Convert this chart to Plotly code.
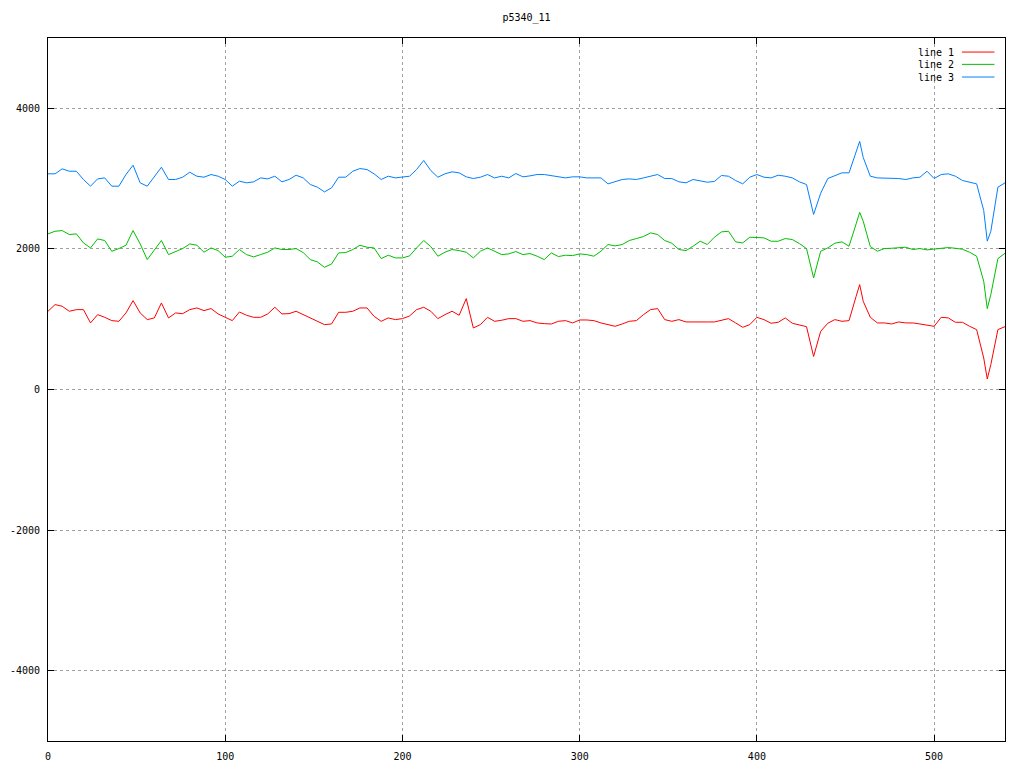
import plotly.graph_objects as go

# x positions (sample index)
X = list(range(0, 457, 4)) + [458] + list(range(460, 529, 4)) + [530] + list(range(532, 541, 4))

line1 = [  # red
    1113, 1208, 1184, 1113, 1136, 1136, 947, 1065, 1027, 980, 970, 1089, 1264, 1089, 994, 1018, 1231, 1018, 1089, 1079, 1136, 1160, 1122,
    1151, 1075, 1027, 980, 1103, 1056, 1027, 1027, 1075, 1170, 1075, 1079, 1113, 1065, 1018, 980, 923, 932, 1098, 1098, 1113, 1160, 1160,
    1041, 970, 1018, 994, 1008, 1046, 1136, 1170, 1113, 1008, 1065, 1113, 1056, 1293, 875, 923, 1027, 970, 985, 1008, 1008, 970,
    980, 947, 937, 932, 970, 980, 947, 989, 989, 980, 947, 923, 899, 932, 970, 980, 1065, 1136, 1151, 994, 970, 994, 961,
    961, 956, 961, 961, 989, 1008, 947, 885, 923, 1027, 994, 942, 956, 1018, 942, 923, 894, 470, 828, 942, 994, 970, 980,
    1326, 1492, 1255,
    1027, 947, 947, 932, 961, 947, 947, 932, 913, 899, 1027, 1018, 956, 956, 899, 852, 448,
    150, 354, 852, 894,
]

line2 = [  # green
    2214, 2251, 2261, 2204, 2214, 2085, 2014, 2142, 2119, 1967, 2005, 2052, 2261, 2071, 1848, 1991, 2119, 1919, 1967, 2005, 2071, 2052, 1953,
    2014, 1976, 1881, 1896, 1991, 1919, 1886, 1919, 1953, 2014, 1991, 1991, 2005, 1948, 1848, 1815, 1739, 1786, 1943, 1948, 1991, 2052, 2024,
    2014, 1862, 1910, 1872, 1872, 1900, 2014, 2119, 2033, 1896, 1953, 1991, 1976, 1953, 1872, 1967, 2014, 1967, 1919, 1929, 1962, 1919,
    1934, 1896, 1848, 1943, 1891, 1910, 1905, 1929, 1919, 1896, 1967, 2062, 2043, 2062, 2119, 2147, 2176, 2228, 2204, 2119, 2081, 1991, 1976,
    2038, 2109, 2062, 2166, 2242, 2251, 2100, 2085, 2166, 2166, 2157, 2109, 2109, 2147, 2133, 2076, 2005, 1587, 1967, 2014, 2081, 2100, 2038,
    2356, 2520, 2394,
    2033, 1967, 2005, 2009, 2019, 2024, 1991, 2005, 1986, 2000, 2014, 2019, 2009, 1995, 1953, 1896, 1540,
    1150, 1350, 1862, 1938,
]

line3 = [  # blue
    3068, 3068, 3139, 3105, 3105, 2987, 2892, 2996, 3010, 2892, 2892, 3058, 3191, 2940, 2892, 3020, 3162, 2987, 2987, 3020, 3091, 3034, 3020,
    3058, 3034, 2987, 2892, 2963, 2940, 2954, 3010, 2996, 3034, 2954, 2987, 3048, 3010, 2916, 2878, 2811, 2868, 3020, 3020, 3105, 3143, 3129,
    3068, 2987, 3034, 3010, 3020, 3034, 3129, 3258, 3115, 3020, 3068, 3096, 3082, 3025, 3001, 3020, 3058, 3010, 3034, 3010, 3072, 3025,
    3039, 3058, 3058, 3044, 3034, 3010, 3025, 3025, 3010, 3010, 3010, 2925, 2954, 2987, 2996, 2987, 3010, 3034, 3058, 3001, 3001, 2954, 2940,
    2987, 2968, 2949, 2959, 3044, 3034, 2973, 2925, 3020, 3058, 3020, 3010, 3048, 3034, 3010, 2954, 2916, 2490, 2792, 3001, 3044, 3082, 3082,
    3390, 3530, 3300,
    3034, 3010, 3010, 3010, 3001, 2987, 3010, 3020, 3105, 3001, 3058, 3068, 3034, 2973, 2949, 2925, 2546,
    2110, 2250, 2878, 2940,
]

names = ["line 1", "line 2", "line 3"]
colors = ["#ff0000", "#00c000", "#0080ff"]
series = [line1, line2, line3]

x_ticks = [0, 100, 200, 300, 400, 500]
y_ticks = [-4000, -2000, 0, 2000, 4000]
y_tick_labels = ["-4000", "-2000", "0", "2000", "4000"]

FONT = "DejaVu Sans Mono"

fig = go.Figure()
for name, col, ys in zip(names, colors, series):
    fig.add_trace(go.Scatter(x=X, y=ys, mode="lines", name=name,
                             line=dict(color=col, width=1), showlegend=False))

# gnuplot-style key (text on the left, sample on the right)
key_y = [0.980, 0.9625, 0.9445]
for name, col, ky in zip(names, colors, key_y):
    fig.add_annotation(xref="paper", yref="paper", x=0.9488, y=ky, text=name,
                       showarrow=False, xanchor="right", yanchor="middle",
                       font=dict(family=FONT, size=10, color="black"))
    fig.add_shape(type="line", xref="paper", yref="paper", x0=0.955, x1=0.989,
                  y0=ky, y1=ky, line=dict(color=col, width=1))

axis_common = dict(showline=True, linecolor="black", linewidth=1, mirror="ticks",
                   ticks="inside", ticklen=6, tickcolor="black", automargin=False,
                   showgrid=True, gridcolor="#a0a0a0", griddash="dot", gridwidth=1,
                   zeroline=False, tickfont=dict(family=FONT, size=10, color="black"))

fig.update_layout(
    width=1024, height=768,
    margin=dict(l=48, r=19, t=38, b=27),
    paper_bgcolor="white", plot_bgcolor="white",
    title=dict(text="p5340_11", xref="paper", x=0.5, xanchor="center", y=0.977, yanchor="middle",
               font=dict(family=FONT, size=10, color="black")),
    xaxis=dict(range=[0, 540], tickvals=x_ticks, ticklabelstandoff=6, **axis_common),
    yaxis=dict(range=[-5000, 5000], tickvals=y_ticks, ticktext=y_tick_labels,
               ticklabelstandoff=5, **axis_common),
)

fig.write_html("out.html", config={"displayModeBar": False},
               post_script="document.body.style.margin='0';document.body.style.overflow='hidden';")
